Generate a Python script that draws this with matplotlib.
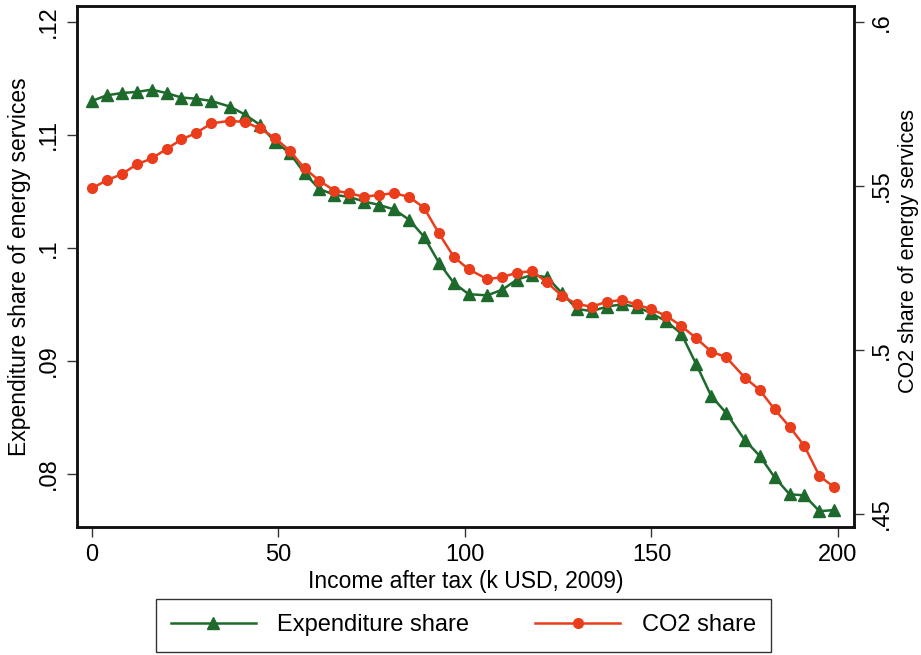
import matplotlib
matplotlib.use("Agg")
import matplotlib.pyplot as plt

# income after tax (k USD, 2009)
income = [0, 4, 8, 12, 16, 20, 24, 28, 32, 37, 41, 45, 49, 53, 57, 61, 65, 69, 73, 77,
          81, 85, 89, 93, 97, 101, 106, 110, 114, 118, 122, 126, 130, 134, 138, 142, 146, 150, 154, 158,
          162, 166, 170, 175, 179, 183, 187, 191, 195, 199]

# expenditure share of energy services (left axis)
exp_share = [0.1130, 0.1135, 0.1137, 0.1138, 0.1140, 0.1137, 0.1133, 0.1132, 0.1130, 0.1125,
             0.1118, 0.1109, 0.1094, 0.1084, 0.1066, 0.1052, 0.1047, 0.1045, 0.1041, 0.1038,
             0.1034, 0.1025, 0.1010, 0.0987, 0.0969, 0.0959, 0.0958, 0.0963, 0.0972, 0.0976,
             0.0974, 0.0960, 0.0946, 0.0944, 0.0948, 0.0950, 0.0948, 0.0942, 0.0935, 0.0924,
             0.0897, 0.0869, 0.0854, 0.0830, 0.0816, 0.0797, 0.0782, 0.0781, 0.0767, 0.0768]

# CO2 share of energy services (right axis)
co2_share = [0.5493, 0.5518, 0.5536, 0.5566, 0.5584, 0.5613, 0.5642, 0.5662, 0.5691, 0.5699,
             0.5695, 0.5676, 0.5647, 0.5608, 0.5554, 0.5516, 0.5486, 0.5478, 0.5467, 0.5473,
             0.5478, 0.5467, 0.5434, 0.5356, 0.5284, 0.5246, 0.5216, 0.5222, 0.5236, 0.5240,
             0.5206, 0.5165, 0.5140, 0.5132, 0.5147, 0.5152, 0.5139, 0.5124, 0.5104, 0.5073,
             0.5036, 0.4995, 0.4978, 0.4916, 0.4878, 0.4819, 0.4766, 0.4707, 0.4616, 0.4581]

green = "#1d6a2c"
red = "#ea3d1c"

plt.rcParams["font.family"] = ["Liberation Sans", "DejaVu Sans"]
plt.rcParams["font.size"] = 16

fig = plt.figure(figsize=(9.21, 6.55), dpi=100)
ax1 = fig.add_axes([0.0836, 0.1954, 0.8437, 0.7954])
ax2 = ax1.twinx()

l1, = ax1.plot(income, exp_share, color=green, lw=1.8, marker="^", ms=8,
               label="Expenditure share")
l2, = ax2.plot(income, co2_share, color=red, lw=1.8, marker="o", ms=7,
               label="CO2 share")

ax1.set_xlim(-4, 204.3)
ax1.set_ylim(0.0753, 0.1214)
ax2.set_ylim(0.446, 0.6049)

ax1.set_xticks([0, 50, 100, 150, 200])
ax1.set_yticks([0.08, 0.09, 0.10, 0.11, 0.12])
ax1.set_yticklabels([".08", ".09", ".1", ".11", ".12"], rotation=90, va="center")
ax2.set_yticks([0.45, 0.5, 0.55, 0.6])
ax2.set_yticklabels([".45", ".5", ".55", ".6"], rotation=90, va="center")

for a in (ax1, ax2):
    a.tick_params(direction="out", length=7, width=1, color="#333333", labelsize=17, pad=5)
    for s in a.spines.values():
        s.set_linewidth(1.8)
        s.set_color("#111111")

ax1.set_xlabel("Income after tax (k USD, 2009)", fontsize=16.5, labelpad=3)
ax1.set_ylabel("Expenditure share of energy services", fontsize=16.5, labelpad=5)
ax2.set_ylabel("CO2 share of energy services", fontsize=15.5, rotation=90,
               va="center", ha="center")
ax2.yaxis.set_label_coords(1.07, 0.53)

leg = fig.legend([l1, l2], [l1.get_label(), l2.get_label()], ncol=2,
                 loc="lower center", bbox_to_anchor=(0.503, 0.005), borderaxespad=0,
                 frameon=True, fancybox=False, edgecolor="black", handlelength=3.6,
                 handletextpad=0.9, columnspacing=2.8, borderpad=0.65, fontsize=17)
leg.get_frame().set_linewidth(1.0)

fig.savefig("out.png", dpi=100)
